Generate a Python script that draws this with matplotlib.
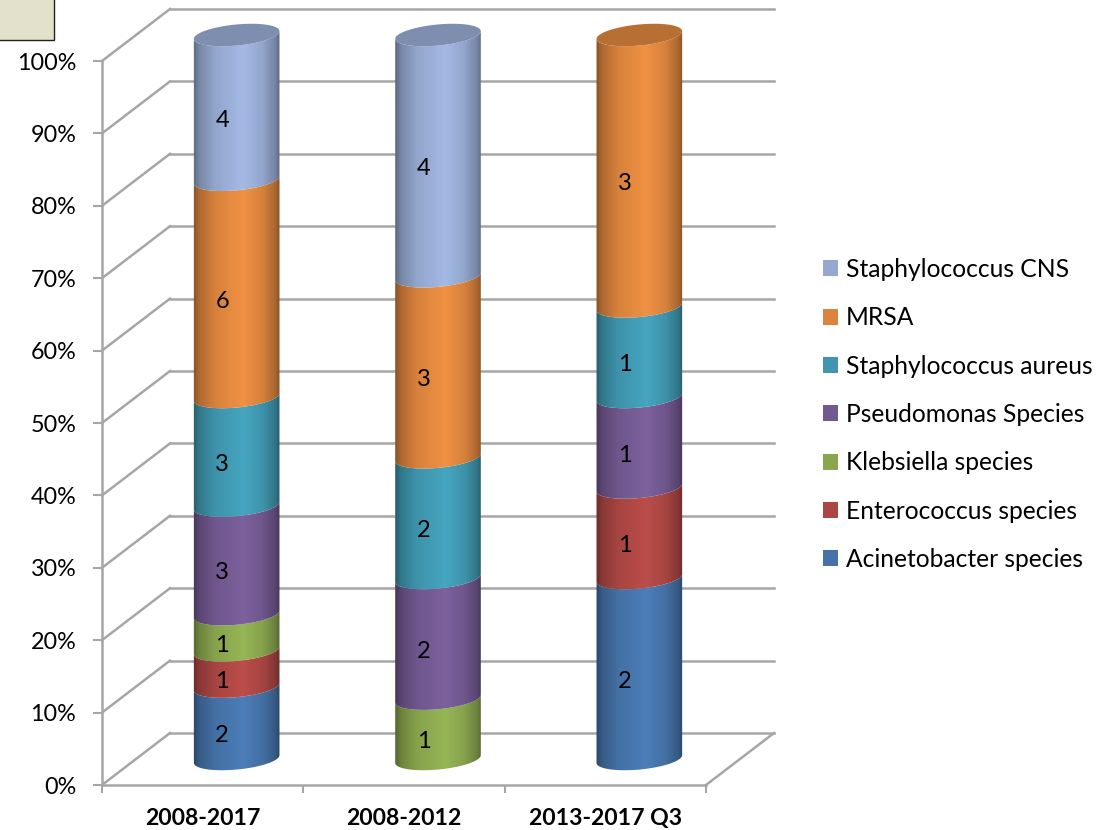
import numpy as np
import matplotlib
matplotlib.use('Agg')
import matplotlib.pyplot as plt
from matplotlib.patches import Patch, Polygon, Rectangle
from matplotlib.colors import to_rgb
from matplotlib.ticker import PercentFormatter

plt.rcParams['font.family'] = ['Lato', 'DejaVu Sans']

periods = ['2008-2017', '2008-2012', '2013-2017 Q3']
# series from bottom of the stack to top, values are the printed counts
organisms = ['Acinetobacter species', 'Enterococcus species', 'Klebsiella species',
             'Pseudomonas Species', 'Staphylococcus aureus', 'MRSA', 'Staphylococcus CNS']
acinetobacter = [2, 0, 2]
enterococcus = [1, 0, 1]
klebsiella = [1, 1, 0]
pseudomonas = [3, 2, 1]
staph_aureus = [3, 2, 1]
mrsa = [6, 3, 3]
staph_cns = [4, 4, 0]
colours = ['#4572a7', '#aa4643', '#89a54e', '#71588f', '#3f96ae', '#db843d', '#95a9d0']
y_ticks = [0, 10, 20, 30, 40, 50, 60, 70, 80, 90, 100]

counts = np.array([acinetobacter, enterococcus, klebsiella, pseudomonas,
                   staph_aureus, mrsa, staph_cns], dtype=float)
shares = counts / counts.sum(axis=0) * 100

W, H = 1097, 830
fig = plt.figure(figsize=(W / 100, H / 100), dpi=100)
ax = fig.add_axes([102 / W, (H - 785) / H, 604 / W, 724 / H])

# sizes in data units per pixel, so the fake 3D depth can be given in pixels
px_x = 3 / 604
px_y = 100 / 724
depth_x = 68 * px_x
depth_y = 52 * px_y
grid_col = '#a6a6a6'
grid_lw = 1.8

# walls of the 3D box
for t in y_ticks:
    ax.plot([0, depth_x], [t, t + depth_y], color=grid_col, lw=grid_lw, clip_on=False, zorder=1)
    ax.plot([depth_x, 3 + depth_x], [t + depth_y, t + depth_y], color=grid_col, lw=grid_lw,
            clip_on=False, zorder=1)
ax.plot([3, 3 + depth_x], [0, depth_y], color=grid_col, lw=grid_lw, clip_on=False, zorder=1)

for side in ['top', 'right']:
    ax.spines[side].set_visible(False)
for side in ['left', 'bottom']:
    ax.spines[side].set_color(grid_col)
    ax.spines[side].set_linewidth(grid_lw)
ax.set_yticks(y_ticks)
ax.yaxis.set_major_formatter(PercentFormatter(decimals=0))
ax.set_xticks([0, 1, 2, 3])
ax.set_xticklabels([])
ax.tick_params(axis='y', length=6.5, width=1.5, color=grid_col, pad=12, labelsize=16.8)
ax.tick_params(axis='x', length=5.5, width=1.5, color=grid_col)
for i, name in enumerate(periods):
    ax.text(i + 0.5, -33 * px_y, name, ha='center', va='center', fontsize=16.6, fontweight='bold')

# cylinder cross section
semi_a = 43
semi_b = 10.5
tilt = np.radians(5.5)


def ellipse_points(cx, cy, t):
    ex = semi_a * np.cos(t)
    ey = semi_b * np.sin(t)
    px = ex * np.cos(tilt) - ey * np.sin(tilt)
    py = ex * np.sin(tilt) + ey * np.cos(tilt)
    return np.column_stack([cx + px * px_x, cy + py * px_y])


front = np.linspace(np.pi, 2 * np.pi, 60)
whole = np.linspace(0, 2 * np.pi, 120)
stops = [0, 0.07, 0.25, 0.58, 0.8, 0.95, 1]
shade = [0.62, 0.8, 0.98, 1.1, 0.98, 0.78, 0.62]
light = np.interp(np.linspace(0, 1, 128), stops, shade)
half_w = (semi_a * np.cos(tilt) + 0.5) * px_x

for col in range(len(periods)):
    cx = col + 0.5 + depth_x / 2
    bottom = 0.0
    top_series = None
    for s in range(len(organisms)):
        h = shares[s, col]
        if h == 0:
            continue
        low = bottom + depth_y / 2
        high = bottom + h + depth_y / 2
        outline = np.vstack([ellipse_points(cx, low, front), ellipse_points(cx, high, front)[::-1]])
        base = np.array(to_rgb(colours[s]))
        grad = np.clip(light[None, :, None] * base[None, None, :], 0, 1)
        im = ax.imshow(grad, extent=[cx - half_w, cx + half_w, low - 3, high + 3], aspect='auto',
                       interpolation='bilinear', zorder=3)
        im.set_clip_box(fig.bbox)
        im.set_clip_path(Polygon(outline, closed=True, transform=ax.transData))
        ax.text(cx - 14.5 * px_x, (low + high) / 2 - 13 * px_y, f'{int(counts[s, col])}',
                ha='center', va='center', fontsize=17, zorder=5, clip_on=False)
        bottom += h
        top_series = s
    cap = np.array(to_rgb(colours[top_series])) * 0.84
    cap_xy = ellipse_points(cx, 100 + depth_y / 2, whole)
    ax.fill(cap_xy[:, 0], cap_xy[:, 1], color=cap, zorder=4, clip_on=False, lw=0)

ax.set_xlim(0, 3)
ax.set_ylim(0, 100)

# legend, top entry is the top of the stack
handles = [Patch(facecolor=c, edgecolor='none') for c in colours[::-1]]
leg = fig.legend(handles, organisms[::-1], loc='upper left', bbox_to_anchor=(823 / W, 1 - 258 / H),
                 frameon=False, fontsize=17.7, handlelength=0.61, handleheight=0.61, handletextpad=0.33,
                 labelspacing=1.03, borderpad=0, borderaxespad=0)

# note box in the corner of the slide
fig.add_artist(Rectangle((-2 / W, 1 - 40 / H), 56 / W, 42 / H, transform=fig.transFigure,
                         facecolor='#e3e0cc', edgecolor='#222222', lw=1))

fig.savefig('out.png', dpi=100)
